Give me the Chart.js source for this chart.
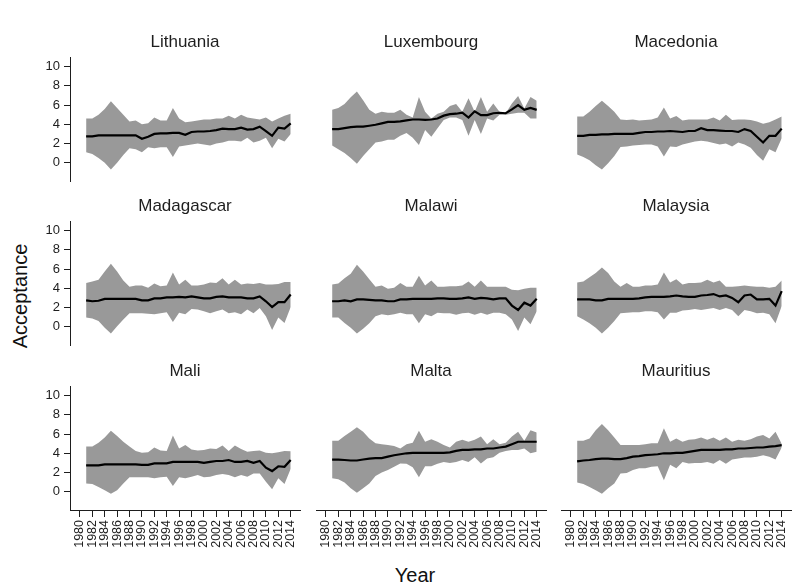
<!DOCTYPE html>
<html>
<head>
<meta charset="utf-8">
<script src="https://cdn.jsdelivr.net/npm/chart.js@4/dist/chart.umd.min.js"></script>
<style>
  html, body { margin: 0; padding: 0; background: #fff; }
  #wrap { position: relative; width: 799px; height: 587px; overflow: hidden; background: #fff; }
  .panel { position: absolute; }
  .axis-title { position: absolute; font-family: 'Liberation Sans', Arial, sans-serif; font-size: 20px; line-height: 20px; color: #111; white-space: nowrap; }
  #ytitle { left: 20px; top: 296px; transform: translate(-50%, -50%) rotate(-90deg); }
  #xtitle { left: 415px; top: 565px; transform: translateX(-50%); }
</style>
</head>
<body>
<div id="wrap">
  <div class="axis-title" id="ytitle">Acceptance</div>
  <div class="axis-title" id="xtitle">Year</div>
</div>
<script>
// Survey years and axis ticks
const years = [1981,1982,1983,1984,1985,1986,1987,1988,1989,1990,1991,1992,1993,1994,1995,1996,1997,
               1998,1999,2000,2001,2002,2003,2004,2005,2006,2007,2008,2009,2010,2011,2012,2013,2014];
const yearTicks = [1980,1982,1984,1986,1988,1990,1992,1994,1996,1998,2000,2002,2004,2006,2008,2010,2012,2014];
const acceptanceTicks = [0,2,4,6,8,10];

// Lithuania
const lithuaniaMean  = [2.75,2.75,2.85,2.85,2.85,2.85,2.85,2.85,2.85,2.5,2.7,3.0,3.05,3.05,3.1,3.1,2.9,3.2,3.25,3.25,3.3,3.4,3.55,3.5,3.5,3.65,3.45,3.5,3.75,3.3,2.8,3.65,3.55,4.1];
const lithuaniaUpper = [4.6,4.6,5.0,5.6,6.4,5.7,5.0,4.3,4.4,4.0,4.1,4.7,4.4,4.4,5.7,4.6,4.2,4.3,4.4,4.5,4.5,4.6,4.6,4.9,4.6,5.0,4.7,4.6,4.5,4.7,4.3,4.6,4.9,5.1];
const lithuaniaLower = [1.1,0.9,0.5,0.0,-0.7,0.0,0.8,1.5,1.4,1.1,1.6,1.5,1.6,1.6,0.6,1.7,1.8,1.9,2.0,1.9,1.8,2.0,2.1,2.3,2.3,2.2,2.6,2.1,2.3,2.6,1.5,2.5,2.2,3.0];

// Luxembourg
const luxembourgMean  = [3.5,3.5,3.6,3.7,3.75,3.75,3.85,3.95,4.1,4.25,4.25,4.3,4.4,4.5,4.5,4.45,4.5,4.6,4.9,5.05,5.1,5.2,4.7,5.35,4.95,4.95,5.15,5.2,5.15,5.55,6.0,5.5,5.7,5.5];
const luxembourgUpper = [5.5,5.7,6.1,6.8,7.4,6.5,5.5,5.1,5.3,5.2,5.2,5.5,5.0,4.7,6.85,5.3,4.6,5.1,5.3,5.9,6.1,5.3,6.7,5.3,6.85,5.3,6.15,5.3,5.15,6.15,6.95,5.65,6.85,6.45];
const luxembourgLower = [1.8,1.4,1.0,0.5,-0.1,0.7,1.4,2.1,2.2,2.4,2.4,2.8,3.1,2.6,1.85,3.4,2.7,3.6,4.45,4.7,4.7,4.45,2.8,4.45,3.0,4.6,4.4,5.0,5.0,5.1,5.2,5.2,4.6,4.6];

// Macedonia
const macedoniaMean  = [2.8,2.8,2.9,2.9,2.95,2.95,3.0,3.0,3.0,3.0,3.1,3.2,3.2,3.25,3.25,3.3,3.25,3.2,3.3,3.3,3.6,3.4,3.4,3.35,3.3,3.3,3.2,3.5,3.3,2.7,2.1,2.8,2.8,3.55];
const macedoniaUpper = [4.8,4.8,5.3,5.9,6.45,5.9,5.3,4.5,4.45,4.5,4.4,4.45,4.5,4.7,5.75,4.6,4.85,4.4,4.5,4.5,4.5,4.5,4.7,4.4,5.0,4.45,4.5,4.5,4.45,4.3,4.05,4.2,4.5,4.8];
const macedoniaLower = [0.85,0.6,0.25,-0.25,-0.7,-0.05,0.7,1.65,1.7,1.8,1.85,1.9,1.9,1.7,0.65,1.7,1.65,1.9,2.05,2.2,2.3,2.2,2.05,1.9,2.0,1.7,2.1,1.9,1.55,0.8,0.2,1.4,1.1,2.55];

// Madagascar
const madagascarMean  = [2.75,2.65,2.7,2.9,2.9,2.9,2.9,2.9,2.9,2.75,2.75,2.95,2.95,3.05,3.05,3.1,3.05,3.15,3.05,2.95,2.95,3.1,3.15,3.05,3.05,3.05,2.95,2.95,3.15,2.65,2.05,2.55,2.55,3.35];
const madagascarUpper = [4.55,4.7,4.9,5.75,6.55,5.75,4.8,4.15,4.3,4.3,4.05,4.5,4.2,4.3,5.65,4.4,4.9,4.3,4.3,4.4,4.6,4.55,5.05,4.4,4.9,4.4,4.5,4.45,4.55,4.4,4.4,4.45,4.65,4.65];
const madagascarLower = [0.95,0.85,0.6,-0.1,-0.7,0.05,0.75,1.4,1.4,1.4,1.35,1.3,1.4,1.5,0.5,1.45,1.3,1.85,1.8,1.6,1.4,1.6,1.8,1.4,1.5,1.3,1.8,1.4,1.95,1.1,-0.35,0.95,0.4,2.05];

// Malawi
const malawiMean  = [2.65,2.65,2.75,2.65,2.85,2.85,2.8,2.75,2.75,2.65,2.65,2.85,2.85,2.9,2.9,2.9,2.9,2.95,2.95,2.9,2.9,2.95,3.05,2.9,3.0,2.95,2.85,2.95,2.95,2.2,1.75,2.5,2.2,2.9];
const malawiUpper = [4.4,4.5,5.05,5.5,6.45,5.75,4.95,4.15,4.3,3.95,4.05,4.55,4.15,4.15,5.3,4.3,4.8,4.15,4.15,4.2,4.2,4.3,4.7,4.15,4.8,4.15,4.15,4.15,4.15,3.85,3.8,3.95,4.05,4.05];
const malawiLower = [0.95,0.95,0.4,-0.1,-0.7,-0.2,0.35,1.1,1.3,1.2,1.3,1.45,1.3,1.3,0.35,1.3,1.1,1.45,1.4,1.4,1.25,1.4,1.45,1.25,1.45,1.25,1.45,1.45,1.3,0.75,-0.45,0.95,0.25,1.6];

// Malaysia
const malaysiaMean  = [2.85,2.85,2.85,2.75,2.75,2.9,2.9,2.9,2.9,2.9,2.95,3.05,3.1,3.1,3.1,3.15,3.25,3.15,3.1,3.1,3.25,3.3,3.4,3.15,3.25,3.0,2.55,3.25,3.35,2.85,2.85,2.9,2.2,3.7];
const malaysiaUpper = [4.6,4.7,5.15,5.6,6.15,5.6,4.7,4.15,4.55,4.15,4.15,4.3,4.3,4.4,5.65,4.6,4.95,4.4,4.55,4.55,4.6,4.9,4.6,4.8,4.15,4.15,4.2,4.3,4.2,4.15,4.15,4.05,4.15,4.8];
const malaysiaLower = [1.1,0.75,0.35,-0.1,-0.7,-0.1,0.6,1.4,1.45,1.5,1.5,1.6,1.6,1.5,0.75,1.45,1.45,1.7,1.75,1.85,1.75,1.85,1.95,1.75,1.95,1.75,1.1,1.75,1.6,1.4,1.45,1.3,0.35,2.15];

// Mali
const maliMean  = [2.75,2.75,2.75,2.85,2.85,2.85,2.85,2.85,2.85,2.8,2.8,2.95,2.95,2.95,3.1,3.1,3.1,3.1,3.1,3.0,3.1,3.2,3.2,3.3,3.1,3.1,3.2,3.0,3.2,2.5,2.15,2.65,2.6,3.3];
const maliUpper = [4.7,4.7,5.1,5.65,6.35,5.8,5.2,4.7,4.25,4.05,4.1,4.6,4.3,4.25,5.85,4.5,4.85,4.4,4.3,4.35,4.5,4.45,4.8,4.25,4.8,4.45,4.15,4.25,4.3,4.05,4.0,4.1,4.25,4.2];
const maliLower = [0.85,0.8,0.5,0.15,-0.2,0.15,0.85,1.5,1.5,1.5,1.5,1.4,1.5,1.55,0.6,1.5,1.4,1.55,1.75,1.5,1.55,1.75,1.85,1.75,1.5,1.75,1.55,1.9,1.9,1.05,0.25,1.4,0.8,2.4];

// Malta
const maltaMean  = [3.35,3.35,3.3,3.25,3.25,3.35,3.45,3.5,3.5,3.65,3.8,3.9,4.0,4.05,4.05,4.05,4.05,4.05,4.05,4.1,4.25,4.35,4.35,4.4,4.4,4.5,4.5,4.6,4.7,4.95,5.2,5.2,5.2,5.2];
const maltaUpper = [5.3,5.3,5.8,6.25,6.7,6.25,5.55,5.05,4.95,4.85,4.75,4.5,4.95,5.1,6.35,5.2,5.45,5.2,4.85,4.6,5.2,5.4,5.2,5.4,5.75,4.95,5.45,4.95,5.1,5.75,6.25,5.3,6.4,6.15];
const maltaLower = [1.4,1.3,0.95,0.35,-0.1,0.35,0.85,1.65,2.0,2.25,2.6,2.95,2.9,2.55,1.5,2.65,2.65,2.9,3.1,3.0,3.1,3.3,3.1,3.6,2.95,3.45,3.6,4.05,4.25,4.35,4.35,4.5,4.0,4.15];

// Mauritius
const mauritiusMean  = [3.15,3.25,3.3,3.4,3.45,3.45,3.4,3.4,3.5,3.65,3.7,3.8,3.85,3.9,4.0,4.0,4.05,4.05,4.15,4.25,4.35,4.35,4.35,4.35,4.4,4.4,4.5,4.5,4.55,4.6,4.6,4.7,4.75,4.85];
const mauritiusUpper = [5.3,5.3,5.55,6.4,7.05,6.4,5.65,4.85,4.85,4.85,4.85,4.95,5.05,5.05,6.6,5.2,5.55,5.2,5.4,5.45,5.65,5.4,5.65,5.3,5.65,5.2,5.4,5.3,5.45,5.75,5.9,5.55,6.25,5.0];
const mauritiusLower = [0.95,0.8,0.5,0.15,-0.2,0.35,0.85,1.9,1.95,2.25,2.45,2.45,2.6,2.65,1.2,2.8,2.45,3.1,2.95,3.0,3.0,3.1,2.9,3.3,2.9,3.35,3.45,3.55,3.55,3.65,3.8,3.65,3.35,4.6];

const countries = ['Lithuania','Luxembourg','Macedonia','Madagascar','Malawi','Malaysia','Mali','Malta','Mauritius'];
const series = [
  [lithuaniaMean, lithuaniaUpper, lithuaniaLower],
  [luxembourgMean, luxembourgUpper, luxembourgLower],
  [macedoniaMean, macedoniaUpper, macedoniaLower],
  [madagascarMean, madagascarUpper, madagascarLower],
  [malawiMean, malawiUpper, malawiLower],
  [malaysiaMean, malaysiaUpper, malaysiaLower],
  [maliMean, maliUpper, maliLower],
  [maltaMean, maltaUpper, maltaLower],
  [mauritiusMean, mauritiusUpper, mauritiusLower]
];

// Facet grid geometry
const FONT = "'Liberation Sans', Arial, Helvetica, sans-serif";
const INK = '#1e1e1e';
const BAND = '#999999';
const colLeft = [70, 316, 561];
const rowTop = [57, 221, 386];
const PLOT_W = 230, PLOT_H = 124;
const TITLE_H = 40, SIDE = 50;

function pts(vals) { return years.map((yr, i) => ({ x: yr, y: vals[i] })); }

const wrap = document.getElementById('wrap');

countries.forEach((name, k) => {
  const r = Math.floor(k / 3), c = k % 3;
  const isLeft = c === 0, isBottom = r === 2;
  const bottomSpace = isBottom ? 65 : 14;
  const W = PLOT_W + 2 * SIDE;
  const H = TITLE_H + PLOT_H + bottomSpace;

  const div = document.createElement('div');
  div.className = 'panel';
  div.style.left = (colLeft[c] - SIDE) + 'px';
  div.style.top = (rowTop[r] - TITLE_H) + 'px';
  div.style.width = W + 'px';
  div.style.height = H + 'px';
  const cv = document.createElement('canvas');
  cv.width = W; cv.height = H;
  cv.style.width = W + 'px'; cv.style.height = H + 'px';
  div.appendChild(cv);
  wrap.appendChild(div);

  const [mean, upper, lower] = series[k];

  new Chart(cv, {
    type: 'line',
    data: {
      datasets: [
        // interval band: upper bound filled down to the lower bound
        { data: pts(upper), fill: '+1', backgroundColor: BAND, borderColor: 'rgba(0,0,0,0)', borderWidth: 0, pointRadius: 0, tension: 0, order: 2 },
        { data: pts(lower), fill: false, borderColor: 'rgba(0,0,0,0)', borderWidth: 0, pointRadius: 0, tension: 0, order: 3 },
        // mean line, drawn on top of the band
        { data: pts(mean), fill: false, borderColor: '#000', borderWidth: 2.2, pointRadius: 0, tension: 0, order: 0 }
      ]
    },
    options: {
      responsive: false,
      animation: false,
      events: [],
      layout: { padding: { left: isLeft ? 0 : SIDE, right: SIDE, top: 0, bottom: isBottom ? 5 : 14 } },
      plugins: {
        legend: { display: false },
        tooltip: { enabled: false },
        title: {
          display: true,
          fullSize: false,   // centre the panel title over its own plot area
          text: name,
          color: INK,
          font: { family: FONT, size: 17, weight: 'normal', lineHeight: 1.2 },
          padding: { top: 15, bottom: TITLE_H - 15 - 17 * 1.2 }
        }
      },
      scales: {
        x: {
          type: 'linear',
          min: 1978.4,
          max: 2015.5,
          display: isBottom,
          afterBuildTicks: s => { s.ticks = yearTicks.map(v => ({ value: v })); },
          afterFit: s => { if (isBottom) s.height = 60; },
          ticks: {
            autoSkip: false,
            minRotation: 90,
            maxRotation: 90,
            padding: 3,
            color: INK,
            font: { family: FONT, size: 12.5 },
            callback: v => String(v)
          },
          grid: { drawOnChartArea: false, drawTicks: true, tickLength: 7, color: INK, lineWidth: 1 },
          border: { display: true, color: INK, width: 1 }
        },
        y: {
          type: 'linear',
          min: -1.9,
          max: 11,
          display: isLeft,
          afterBuildTicks: s => { s.ticks = acceptanceTicks.map(v => ({ value: v })); },
          afterFit: s => { if (isLeft) s.width = SIDE; },
          ticks: {
            autoSkip: false,
            padding: 4,
            color: INK,
            font: { family: FONT, size: 13 },
            callback: v => String(v)
          },
          grid: { drawOnChartArea: false, drawTicks: true, tickLength: 6, color: INK, lineWidth: 1 },
          border: { display: true, color: INK, width: 1 }
        }
      }
    }
  });
});
</script>
</body>
</html>
